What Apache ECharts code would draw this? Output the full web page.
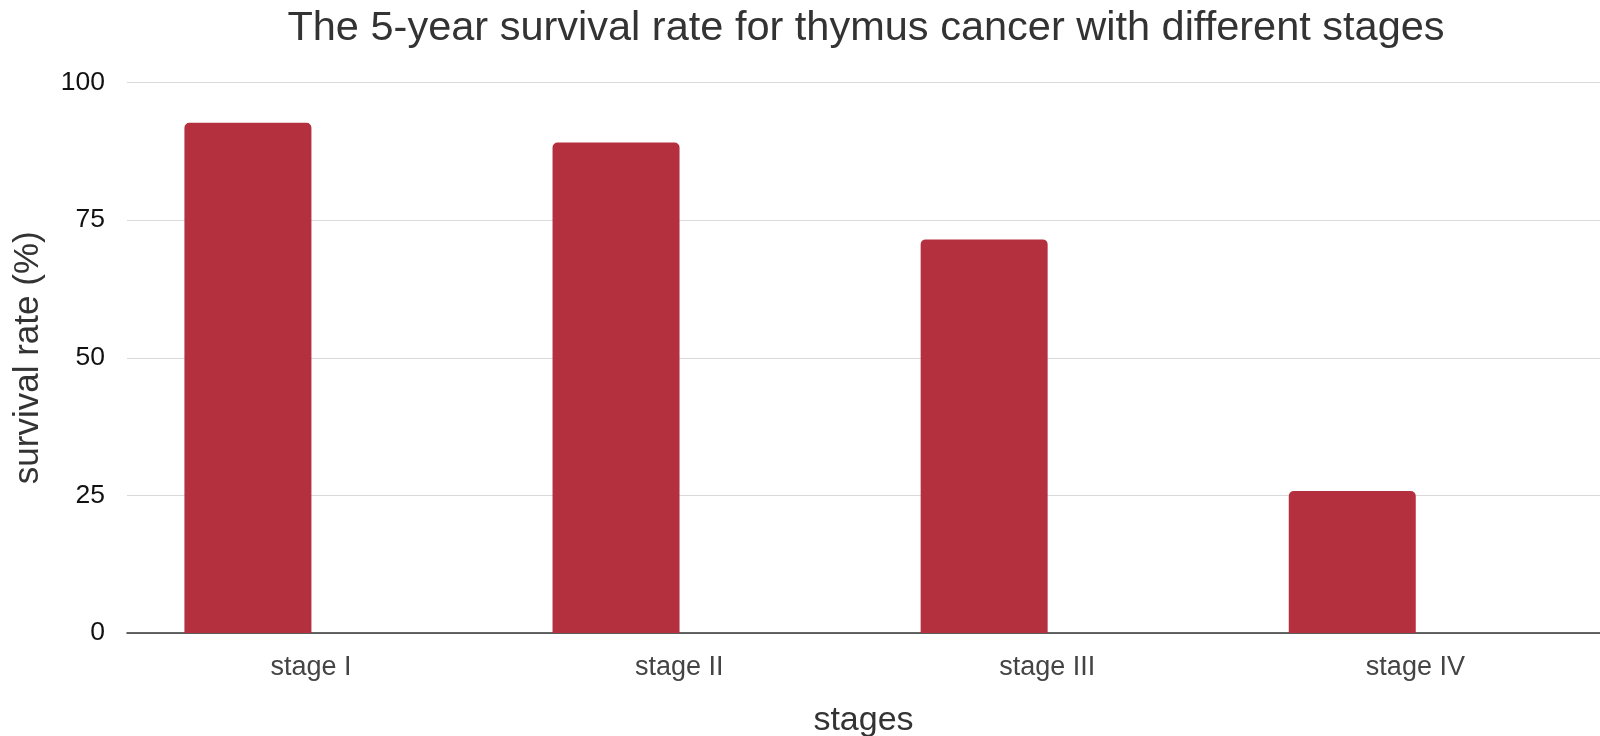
<!DOCTYPE html>
<html>
<head>
<meta charset="utf-8">
<script src="https://cdn.jsdelivr.net/npm/echarts@6/dist/echarts.min.js"></script>
<style>
html,body{margin:0;padding:0;background:#fff;}
#chart{width:1600px;height:736px;}
</style>
</head>
<body>
<div id="chart"></div>
<script>
const categories = ['stage I', 'stage II', 'stage III', 'stage IV'];
const survivalRates = [92.7, 89.1, 71.5, 25.8];
const yTicks = [0, 25, 50, 75, 100];

const FONT = 'Liberation Sans, Arial, Helvetica, sans-serif';
// bars sit left of the centre of each category band; labels sit at band centre
const LABEL_SHIFT = 0.1715;
const chart = echarts.init(document.getElementById('chart'), null, {renderer: 'canvas'});

const barData = survivalRates.map((v, i) => [i, v]);

chart.setOption({
  animation: false,
  backgroundColor: '#ffffff',
  title: {
    text: 'The 5-year survival rate for thymus cancer with different stages',
    left: 866,
    top: 8,
    padding: 0,
    textAlign: 'center',
    textStyle: {fontFamily: FONT, fontSize: 41.5, fontWeight: 'normal', color: '#333333'}
  },
  grid: {left: 127, right: 0, top: 82.5, bottom: 103, containLabel: false, outerBoundsMode: 'none'},
  xAxis: {
    type: 'value',
    min: -0.3285,
    max: 3.673,
    name: 'stages',
    nameLocation: 'middle',
    nameGap: 71,
    nameTextStyle: {fontFamily: FONT, fontSize: 34, color: '#333333'},
    axisLine: {show: true, onZero: false, lineStyle: {color: '#333333', width: 1.5}},
    axisTick: {show: false},
    splitLine: {show: false},
    axisLabel: {
      customValues: categories.map((c, i) => i + LABEL_SHIFT),
      formatter: v => categories[Math.round(v - LABEL_SHIFT)] || '',
      fontFamily: FONT, fontSize: 27, color: '#444444', margin: 21
    }
  },
  yAxis: {
    type: 'value',
    min: yTicks[0],
    max: yTicks[yTicks.length - 1],
    interval: 25,
    name: 'survival rate (%)',
    nameLocation: 'middle',
    nameGap: 81,
    nameTextStyle: {fontFamily: FONT, fontSize: 35, color: '#333333'},
    axisLine: {show: false},
    axisTick: {show: false},
    splitLine: {show: true, lineStyle: {color: '#d9d9d9', width: 1.2}},
    axisLabel: {fontFamily: FONT, fontSize: 26.5, color: '#111111', margin: 22}
  },
  series: [{
    type: 'bar',
    data: barData,
    barWidth: 127,
    itemStyle: {color: '#b5303e', borderRadius: [5, 5, 0, 0]}
  }]
});
</script>
</body>
</html>
